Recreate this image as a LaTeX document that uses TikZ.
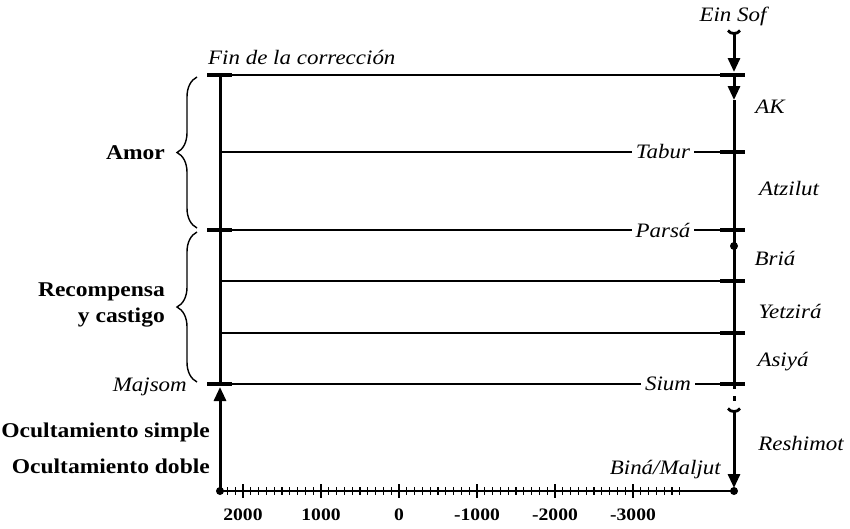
\documentclass[tikz,border=0pt]{standalone}
\usepackage{fontspec}
\setmainfont[FakeStretch=1.12]{Liberation Serif}
\usetikzlibrary{decorations.pathreplacing,arrows.meta}
\begin{document}
\begin{tikzpicture}[x=1pt,y=-1pt,
  thinline/.style={line width=1.2pt},
  thickline/.style={line width=3pt},
  tickmark/.style={line width=3.5pt},
  lab/.style={font=\fontsize{20.5}{25}\selectfont\itshape, inner sep=1pt},
  blab/.style={font=\fontsize{21}{26}\selectfont\bfseries, inner sep=0pt},
  nlab/.style={font=\fontsize{17.5}{20}\selectfont\bfseries, inner sep=0pt},
  gaplab/.style={lab, fill=white, inner sep=4pt},
  tip/.style={-{Triangle[length=14pt,width=12pt]}},
  dotc/.style={circle, fill, inner sep=0pt, minimum size=8pt},
  capmark/.style={line width=2.8pt},
  bracestyle/.style={decorate, decoration={brace, amplitude=20pt}, line width=1.4pt}
]
\useasboundingbox (0,0) rectangle (850,528);
% coordinates
\foreach \n/\y in {0/75,1/152,2/230,3/281,4/333,5/384}{
  \coordinate (L\n) at (220,\y);
  \coordinate (R\n) at (734,\y);
}
\coordinate (LB) at (220,491);
\coordinate (RB) at (734,491);
\coordinate (ES) at (734,33);
\coordinate (EStip) at (734,72);
\coordinate (AKtip) at (734,100);
\coordinate (MJtip) at (220,387);
\coordinate (DashEnd) at (734,404);
\coordinate (RSstart) at (734,411);
\coordinate (RStip) at (734,488);
% thin horizontal lines
\foreach \n in {0,...,5}{ \draw[thinline] (L\n) -- (R\n); }
% labels over lines
\node[gaplab] (tabur) at (663,152) {Tabur};
\node[gaplab] (parsa) at (663,230) {Parsá};
\node[gaplab] (sium) at (668,384) {Sium};
% left vertical
\draw[thickline] (L0) -- (L5);
\draw[thickline,tip] (LB) -- (MJtip);
\node[dotc] (ldot) at (LB) {};
% right vertical
\draw[capmark] (728,30.5) .. controls (730.5,34.5) and (737.5,34.5) .. (740,30.5);
\draw[thickline,tip] (ES) -- (EStip);
\draw[thickline,tip] (R0) -- (AKtip);
\draw[thickline] (AKtip) -- (R5);
\draw[thickline,dash pattern=on 5pt off 7pt] (R5) -- (DashEnd);
\draw[capmark] (728,408.5) .. controls (730.5,412.5) and (737.5,412.5) .. (740,408.5);
\draw[thickline,tip] (RSstart) -- (RStip);
\node[dotc] (rdot) at (RB) {};
\node[dotc] (bdot) at (734,246) {};
% ticks
\foreach \n in {0,2,5}{ \draw[tickmark] ([xshift=-13pt]L\n) -- ([xshift=12pt]L\n); }
\foreach \n in {0,...,5}{ \draw[tickmark] ([xshift=-14pt]R\n) -- ([xshift=11pt]R\n); }
% axis
\draw[line width=2.5pt] (LB) -- (RB);
\foreach \v in {2200,2100,...,-3600}{
  \pgfmathsetmacro\xx{399-0.078*\v}
  \draw[line width=1.2pt] (\xx,487) -- (\xx,495);
}
\foreach \v in {2000,1000,0,-1000,-2000,-3000}{
  \pgfmathsetmacro\xx{399-0.078*\v}
  \draw[line width=2.5pt] (\xx,484) -- (\xx,498);
  \node[nlab] (n\v) at (\xx,515) {\v};
}
% braces
\draw[bracestyle] (197,228) -- (197,77);
\draw[bracestyle] (197,382) -- (197,232);
% right labels
\node[lab] (einsof) at (733,16) {Ein Sof};
\node[lab] (ak) at (770,107) {AK};
\node[lab] (atz) at (789,189) {Atzilut};
\node[lab] (bria) at (775,258) {Briá};
\node[lab] (yetz) at (790,311) {Yetzirá};
\node[lab] (asiya) at (783,362) {Asiyá};
\node[lab] (resh) at (801,443) {Reshimot};
\node[lab, anchor=east] (bina) at (722,470) {Biná/Maljut};
% left labels
\node[lab, anchor=west] (fin) at (207,57) {Fin de la corrección};
\node[blab, anchor=east] (amor) at (165,153) {Amor};
\node[blab, anchor=east, align=right] (recomp) at (165,305) {Recompensa\\y castigo};
\node[lab, anchor=east] (majsom) at (188,387) {Majsom};
\node[blab, anchor=east] (ocs) at (210,432) {Ocultamiento simple};
\node[blab, anchor=east] (ocd) at (210,466) {Ocultamiento doble};
\end{tikzpicture}
\end{document}
